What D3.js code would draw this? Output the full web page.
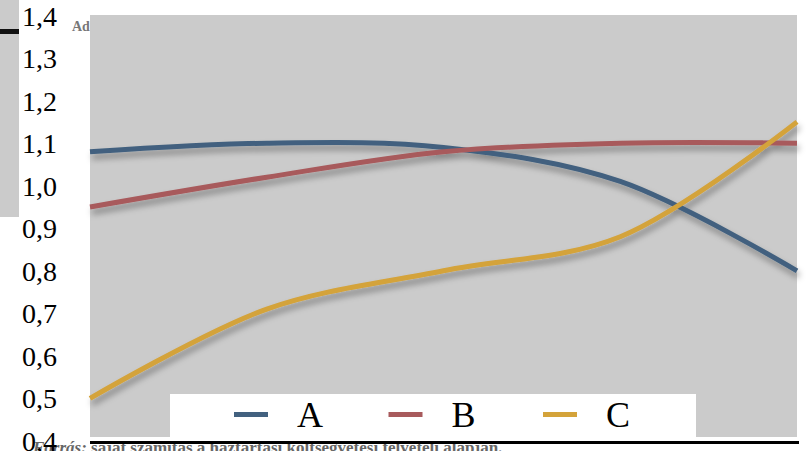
<!DOCTYPE html>
<html>
<head>
<meta charset="utf-8">
<script src="https://cdn.jsdelivr.net/npm/d3@7"></script>
<style>
  html, body { margin: 0; padding: 0; background: #fff; }
  svg { display: block; }
</style>
</head>
<body>
<svg id="chart" width="811" height="451"></svg>
<script>
// Data
const categories = ["1", "2", "3", "4", "5"];
const seriesNames = ["A", "B", "C"];
const valuesA = [1.08, 1.10, 1.09, 1.01, 0.80];
const valuesB = [0.95, 1.02, 1.08, 1.10, 1.10];
const valuesC = [0.50, 0.71, 0.80, 0.88, 1.15];
const seriesColors = ["#42617f", "#a85a5c", "#d4a33a"];
const yTicks = [0.4, 0.5, 0.6, 0.7, 0.8, 0.9, 1.0, 1.1, 1.2, 1.3, 1.4];
const sourceNoteLead = "Forrás:";
const sourceNoteRest = " saját számítás a háztartási költségvetési felvételi alapján.";

const series = seriesNames.map((name, i) => ({
  name,
  values: [valuesA, valuesB, valuesC][i],
  color: seriesColors[i]
}));

const svg = d3.select("#chart");
const plot = { left: 90, right: 797, top: 15, bottom: 437 };

const x = d3.scalePoint().domain(categories).range([plot.left, plot.right]);
const y = d3.scaleLinear().domain([0.4, 1.4]).range([441, 15.5]);

// Shadow filter for the data lines
const defs = svg.append("defs");
const f = defs.append("filter").attr("id", "shadow")
  .attr("x", "-10%").attr("y", "-30%").attr("width", "120%").attr("height", "160%");
f.append("feDropShadow").attr("dx", 2).attr("dy", 5).attr("stdDeviation", 3)
  .attr("flood-color", "#000").attr("flood-opacity", 0.35);

// Page fragments around the chart
svg.append("rect").attr("x", 0).attr("y", 0).attr("width", 19).attr("height", 217).attr("fill", "#cbcbcb");
svg.append("rect").attr("x", 0).attr("y", 29).attr("width", 19).attr("height", 5).attr("fill", "#111");
svg.append("text").attr("x", 72).attr("y", 31)
  .attr("font-family", "Liberation Serif, serif").attr("font-size", 14).attr("font-weight", "bold")
  .attr("fill", "#777").text("Ad");

// Source note underneath
const note = svg.append("text").attr("x", 33).attr("y", 453)
  .attr("font-family", "Liberation Serif, serif").attr("font-size", 17).attr("font-weight", "bold")
  .attr("fill", "#666");
note.append("tspan").attr("font-style", "italic").text(sourceNoteLead);
note.append("tspan").text(sourceNoteRest);

// Plot area background
svg.append("rect")
  .attr("x", plot.left).attr("y", plot.top)
  .attr("width", plot.right - plot.left).attr("height", plot.bottom - plot.top)
  .attr("fill", "#cbcbcb");

// Y axis labels
const yAxis = d3.axisLeft(y).tickValues(yTicks).tickSize(0).tickPadding(0)
  .tickFormat(d => d3.format(".1f")(d).replace(".", ","));
const gy = svg.append("g").attr("transform", "translate(57,0)").call(yAxis);
gy.select(".domain").remove();
gy.selectAll("text")
  .attr("font-family", "Liberation Serif, serif").attr("font-size", 28)
  .attr("fill", "#000").attr("dy", "0.34em");

// Lines
const line = d3.line()
  .x((d, i) => x(categories[i]))
  .y(d => y(d))
  .curve(d3.curveCatmullRom.alpha(0.5));

svg.append("g").attr("filter", "url(#shadow)")
  .selectAll("path").data(series).join("path")
  .attr("d", d => line(d.values))
  .attr("fill", "none")
  .attr("stroke", d => d.color)
  .attr("stroke-width", 5);

// Bottom axis line
svg.append("line")
  .attr("x1", plot.left).attr("x2", 799)
  .attr("y1", 442.5).attr("y2", 442.5)
  .attr("stroke", "#000").attr("stroke-width", 3);

// Legend
const legend = svg.append("g");
legend.append("rect").attr("x", 170).attr("y", 394).attr("width", 526).attr("height", 43).attr("fill", "#fff");
const item = legend.selectAll("g.item").data(series).join("g")
  .attr("class", "item")
  .attr("transform", (d, i) => `translate(${234 + i * 154.5},0)`);
item.append("line").attr("x1", 0).attr("x2", 34).attr("y1", 414.5).attr("y2", 414.5)
  .attr("stroke", d => d.color).attr("stroke-width", 5);
item.append("text").attr("x", 63).attr("y", 427)
  .attr("font-family", "Liberation Serif, serif").attr("font-size", 36)
  .attr("fill", "#000").text(d => d.name);
</script>
</body>
</html>
